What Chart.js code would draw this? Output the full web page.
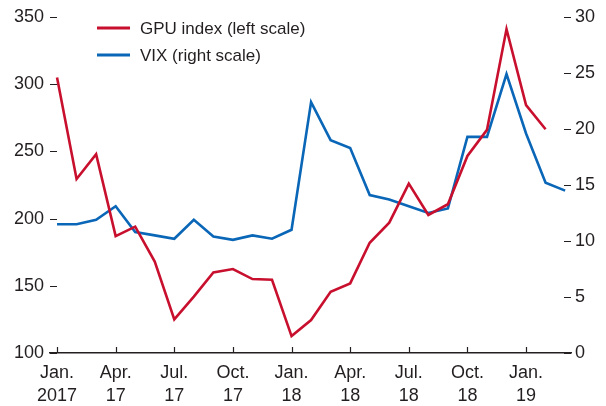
<!DOCTYPE html>
<html>
<head>
<meta charset="utf-8">
<script src="https://cdn.jsdelivr.net/npm/chart.js@4"></script>
<style>
  html, body { margin: 0; padding: 0; background: #fff; }
  #wrap { width: 606px; height: 406px; }
</style>
</head>
<body>
<div id="wrap"><canvas id="chart" width="606" height="406"></canvas></div>
<script>
// monthly, Jan. 2017 onwards
const tickMonths = [0, 3, 6, 9, 12, 15, 18, 21, 24];
const tickLabels = [['Jan.', '2017'], ['Apr.', '17'], ['Jul.', '17'], ['Oct.', '17'],
                    ['Jan.', '18'], ['Apr.', '18'], ['Jul.', '18'], ['Oct.', '18'], ['Jan.', '19']];

// GPU index, left scale (Jan. 2017 - Feb. 2019)
const gpuIndex = [305, 229.5, 248, 187, 194, 168, 125, 142, 160, 162.5, 155, 154.5,
                  112.6, 124.5, 145.6, 151.8, 182, 197, 226, 202.7, 210.7, 246.6, 266, 341,
                  284.5, 266.5];
// VIX, right scale (Jan. 2017 - Mar. 2019)
const vix = [11.5, 11.5, 11.9, 13.1, 10.8, 10.5, 10.2, 11.9, 10.4, 10.1, 10.5, 10.2,
             11.0, 22.4, 19.0, 18.3, 14.1, 13.7, 13.1, 12.5, 12.9, 19.3, 19.3, 24.9,
             19.6, 15.2, 14.5];

const leftTicks = [100, 150, 200, 250, 300, 350];
const rightTicks = [0, 5, 10, 15, 20, 25, 30];

const red = '#C8102E';
const blue = '#0A66B7';
const ink = '#231F20';
const font = { family: '"Liberation Sans", Arial, sans-serif', size: 18 };

// little tick marks drawn inside the plot, like the original
const tickMarks = {
  id: 'tickMarks',
  afterDatasetsDraw(chart) {
    const c = chart.ctx, a = chart.chartArea;
    const s = chart.scales;
    c.save();
    c.strokeStyle = ink;
    c.lineWidth = 1.2;
    c.beginPath();
    s.y.ticks.forEach(t => {
      const p = Math.round(s.y.getPixelForValue(t.value)) + 0.5;
      c.moveTo(a.left, p); c.lineTo(a.left + 7, p);
    });
    s.y1.ticks.forEach(t => {
      const p = Math.round(s.y1.getPixelForValue(t.value)) + 0.5;
      c.moveTo(a.right - 7, p); c.lineTo(a.right, p);
    });
    s.x.ticks.forEach(t => {
      const p = Math.round(s.x.getPixelForValue(t.value)) + 0.5;
      c.moveTo(p, a.bottom); c.lineTo(p, a.bottom - 6);
    });
    c.stroke();
    c.restore();
  }
};

// legend in the top left corner
const cornerLegend = {
  id: 'cornerLegend',
  afterDraw(chart) {
    const c = chart.ctx;
    c.save();
    c.font = '17px "Liberation Sans", Arial, sans-serif';
    c.textBaseline = 'middle';
    chart.data.datasets.forEach((ds, i) => {
      const y = 28 + i * 27;
      c.strokeStyle = ds.borderColor;
      c.lineWidth = 3;
      c.beginPath();
      c.moveTo(97, y); c.lineTo(130, y);
      c.stroke();
      c.fillStyle = ink;
      c.fillText(ds.label, 140, y + 1);
    });
    c.restore();
  }
};

new Chart(document.getElementById('chart'), {
  type: 'line',
  data: {
    datasets: [{
      label: 'GPU index (left scale)',
      data: gpuIndex.map((v, i) => ({ x: i, y: v })),
      borderColor: red,
      borderWidth: 2.6,
      pointRadius: 0,
      tension: 0,
      yAxisID: 'y'
    }, {
      label: 'VIX (right scale)',
      data: vix.map((v, i) => ({ x: i, y: v })),
      borderColor: blue,
      borderWidth: 2.6,
      pointRadius: 0,
      tension: 0,
      yAxisID: 'y1'
    }]
  },
  options: {
    responsive: false,
    animation: false,
    layout: { padding: { top: 17 } },
    plugins: { legend: { display: false }, tooltip: { enabled: false } },
    scales: {
      x: {
        type: 'linear',
        min: -0.36,
        max: 26.3,
        afterBuildTicks: s => { s.ticks = tickMonths.map(v => ({ value: v })); },
        afterFit: s => { s.height = 53; },
        grid: { display: false, drawTicks: false },
        border: { display: true, color: ink, width: 1.5 },
        ticks: {
          autoSkip: false,
          maxRotation: 0,
          padding: 8,
          color: ink,
          font: Object.assign({ lineHeight: 1.3 }, font),
          callback: v => tickLabels[tickMonths.indexOf(v)]
        }
      },
      y: {
        position: 'left',
        min: 100,
        max: 350,
        afterBuildTicks: s => { s.ticks = leftTicks.map(v => ({ value: v })); },
        afterFit: s => { s.width = 50; },
        grid: { display: false, drawTicks: false },
        border: { display: false },
        ticks: { padding: 6, color: ink, font: font }
      },
      y1: {
        position: 'right',
        min: 0,
        max: 30,
        afterBuildTicks: s => { s.ticks = rightTicks.map(v => ({ value: v })); },
        afterFit: s => { s.width = 35; },
        grid: { display: false, drawTicks: false },
        border: { display: false },
        ticks: { padding: 4, color: ink, font: font }
      }
    }
  },
  plugins: [tickMarks, cornerLegend]
});
</script>
</body>
</html>
